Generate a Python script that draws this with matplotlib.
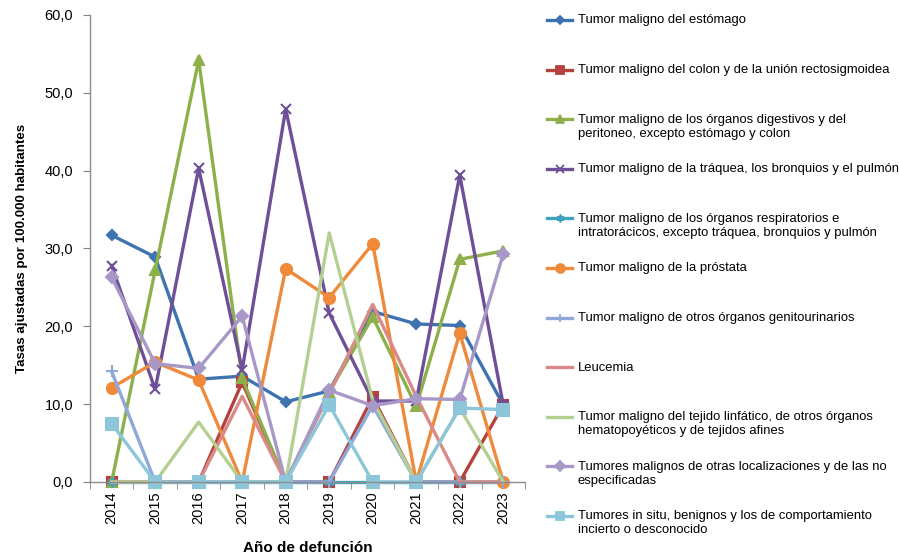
import matplotlib.pyplot as plt
from matplotlib.lines import Line2D
from matplotlib.ticker import FuncFormatter, MultipleLocator

plt.rcParams['font.family'] = ['Liberation Sans', 'DejaVu Sans']

years = [2014, 2015, 2016, 2017, 2018, 2019, 2020, 2021, 2022, 2023]

estomago = [31.7, 28.9, 13.2, 13.6, 10.3, 11.7, 21.9, 20.3, 20.1, 9.9]
colon = [0.0, 0.0, 0.0, 12.8, 0.0, 0.0, 10.9, 0.0, 0.0, 9.9]
digestivos = [0.0, 27.2, 54.2, 13.3, 0.0, 11.6, 21.2, 9.7, 28.6, 29.7]
traquea = [27.8, 11.9, 40.3, 14.4, 47.9, 21.7, 10.4, 10.4, 39.4, 9.9]
respiratorios = [0.0, 0.0, 0.0, 0.0, 0.0, 0.0, 0.0, 0.0, 0.0, 0.0]
prostata = [12.1, 15.4, 13.1, 0.0, 27.4, 23.7, 30.6, 0.0, 19.1, 0.0]
genitourinarios = [14.2, 0.0, 0.0, 0.0, 0.0, 0.0, 9.8, 0.0, 0.0, 0.0]
leucemia = [0.0, 0.0, 0.0, 11.0, 0.0, 11.3, 22.8, 11.0, 0.0, 0.0]
linfatico = [0.0, 0.0, 7.7, 0.0, 0.0, 32.0, 10.5, 0.0, 9.5, 0.0]
otras = [26.3, 15.2, 14.6, 21.3, 0.0, 11.8, 9.8, 10.7, 10.6, 29.3]
in_situ = [7.5, 0.0, 0.0, 0.0, 0.0, 9.9, 0.0, 0.0, 9.5, 9.3]

labels = [
    "Tumor maligno del estómago",
    "Tumor maligno del colon y de la unión rectosigmoidea",
    "Tumor maligno de los órganos digestivos y del\nperitoneo, excepto estómago y colon",
    "Tumor maligno de la tráquea, los bronquios y el pulmón",
    "Tumor maligno de los órganos respiratorios e\nintratorácicos, excepto tráquea, bronquios y pulmón",
    "Tumor maligno de la próstata",
    "Tumor maligno de otros órganos genitourinarios",
    "Leucemia",
    "Tumor maligno del tejido linfático, de otros órganos\nhematopoyéticos y de tejidos afines",
    "Tumores malignos de otras localizaciones y de las no\nespecificadas",
    "Tumores in situ, benignos y los de comportamiento\nincierto o desconocido",
]
series = [estomago, colon, digestivos, traquea, respiratorios, prostata,
          genitourinarios, leucemia, linfatico, otras, in_situ]

colors = ['#3F73B0', '#B5423F', '#8DB04B', '#6E4F98', '#3FA3BE', '#EE8A3A',
          '#8EA8D8', '#DA8A86', '#B4CF92', '#A898C8', '#8CC6D8']
markers = ['D', 's', '^', 'x', (6, 2, 0), 'o', '+', None, None, 'D', 's']
msizes = [5, 7, 7, 7, 7, 8, 8, 0, 0, 6, 8]

fig = plt.figure(figsize=(8.99, 5.54), dpi=100)
ax = fig.add_axes([0.100, 0.130, 0.484, 0.843])

for vals, lab, c, m, ms in zip(series, labels, colors, markers, msizes):
    ax.plot(years, vals, color=c, lw=2.4, marker=m, ms=ms, mew=1.5,
            label=lab, clip_on=False)

ax.set_xlim(2013.5, 2023.5)
ax.set_ylim(0, 60)
ax.yaxis.set_major_locator(MultipleLocator(10))
ax.yaxis.set_major_formatter(FuncFormatter(lambda v, p: f"{v:.1f}".replace('.', ',')))
ax.set_xticks(years)
ax.set_xticklabels([str(y) for y in years], rotation=90)
ax.set_xticks([y - 0.5 for y in years] + [2023.5], minor=True)
ax.tick_params(axis='x', which='major', length=0, pad=7, labelsize=10.5)
ax.tick_params(axis='x', which='minor', length=5, color='#808080')
ax.tick_params(axis='y', length=5, color='#808080', labelsize=10.5, pad=7)

for s in ['top', 'right']:
    ax.spines[s].set_visible(False)
for s in ['left', 'bottom']:
    ax.spines[s].set_color('#8c8c8c')
    ax.spines[s].set_linewidth(1.0)

ax.set_ylabel("Tasas ajustadas por 100.000 habitantes", fontsize=9.6,
              fontweight='bold', labelpad=12)
ax.set_xlabel("Año de defunción", fontsize=11, fontweight='bold', labelpad=12)

# legend drawn entry by entry, evenly spaced like the original
top_y = 1 - 20 / 554
step = 49.6 / 554
x0, x1 = 547 / 899, 572 / 899
for i, (lab, c, m, ms) in enumerate(zip(labels, colors, markers, msizes)):
    y = top_y - i * step
    fig.add_artist(Line2D([x0, (x0 + x1) / 2, x1], [y, y, y], color=c, lw=2.4,
                          marker=m, ms=ms * 0.8, mew=1.3, markevery=[1],
                          transform=fig.transFigure))
    fig.text(578 / 899, y + 5.5 / 554, lab, fontsize=9.35, va='top', ha='left',
             linespacing=1.22)

fig.savefig("out.png", dpi=100)
